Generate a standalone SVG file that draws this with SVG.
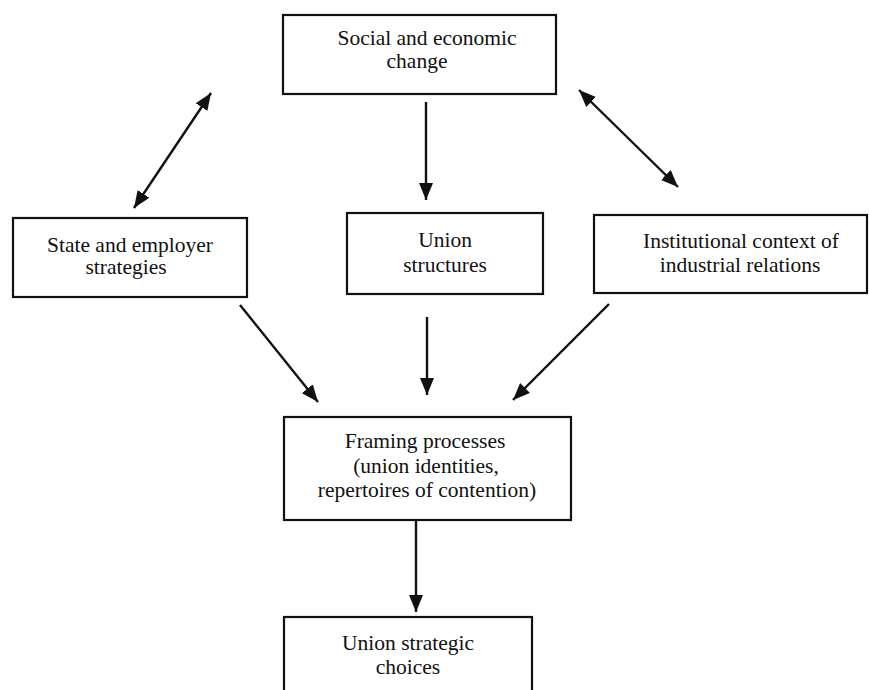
<svg xmlns="http://www.w3.org/2000/svg" width="869" height="690" viewBox="0 0 869 690">
<style>
.box{fill:#fff;stroke:#111;stroke-width:2.2}
.t{font-family:"Liberation Serif","Times New Roman",serif;font-size:21.5px;fill:#111;text-anchor:middle}
.c{stroke:#111;stroke-width:2.4;fill:none}
</style>
<defs>
<marker id="ah" markerUnits="userSpaceOnUse" markerWidth="18" markerHeight="14" viewBox="0 0 18 14" refX="17" refY="7" orient="auto-start-reverse">
<path d="M0,0 L17,7 L0,14 Z" fill="#111"/>
</marker>
</defs>
<rect width="869" height="690" fill="#fff"/>
<g id="connectors">
<line class="c" x1="426" y1="102" x2="426" y2="200" marker-end="url(#ah)"/>
<line class="c" x1="211" y1="93" x2="134" y2="208" marker-start="url(#ah)" marker-end="url(#ah)"/>
<line class="c" x1="579" y1="90" x2="678" y2="187" marker-start="url(#ah)" marker-end="url(#ah)"/>
<line class="c" x1="240" y1="305" x2="318" y2="402" marker-end="url(#ah)"/>
<line class="c" x1="427" y1="317" x2="427" y2="395" marker-end="url(#ah)"/>
<line class="c" x1="609" y1="304" x2="513" y2="400" marker-end="url(#ah)"/>
<line class="c" x1="416" y1="520" x2="416" y2="612" marker-end="url(#ah)"/>
</g>
<g id="social">
<rect class="box" x="283" y="15" width="273" height="79"/>
<text class="t" x="427" y="45">Social and economic</text>
<text class="t" x="417" y="68">change</text>
</g>
<g id="state">
<rect class="box" x="13" y="218" width="234" height="79"/>
<text class="t" x="130" y="252">State and employer</text>
<text class="t" x="126" y="274">strategies</text>
</g>
<g id="union-structures">
<rect class="box" x="347" y="213" width="196" height="81"/>
<text class="t" x="445" y="247">Union</text>
<text class="t" x="445" y="272">structures</text>
</g>
<g id="institutional">
<rect class="box" x="594" y="215" width="273" height="78"/>
<text class="t" x="741" y="248">Institutional context of</text>
<text class="t" x="740" y="272">industrial relations</text>
</g>
<g id="framing">
<rect class="box" x="284" y="417" width="287" height="103"/>
<text class="t" x="425" y="448">Framing processes</text>
<text class="t" x="426" y="473">(union identities,</text>
<text class="t" x="427" y="497">repertoires of contention)</text>
</g>
<g id="choices">
<rect class="box" x="284" y="617" width="248" height="80"/>
<text class="t" x="408" y="650">Union strategic</text>
<text class="t" x="408" y="674">choices</text>
</g>
</svg>
